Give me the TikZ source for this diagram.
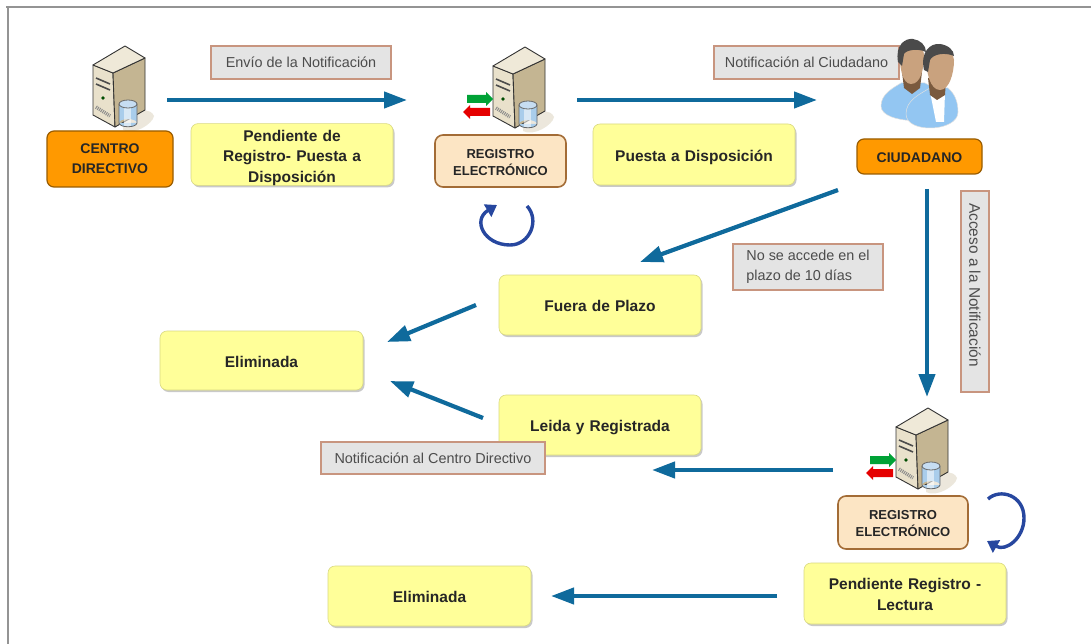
\documentclass[tikz,border=0pt]{standalone}
\usepackage{fontspec}
\setmainfont{Liberation Sans}
\usetikzlibrary{arrows.meta,shadows}
\definecolor{flow}{HTML}{0F6A9C}
\definecolor{loopc}{HTML}{27479F}
\definecolor{yel}{HTML}{FFFF99}
\definecolor{org}{HTML}{FF9900}
\definecolor{pch}{HTML}{FCE5C4}
\definecolor{lab}{HTML}{E4E4E4}
\definecolor{labb}{HTML}{C8957F}
\definecolor{srvtop}{HTML}{EFE9D8}
\definecolor{srvleft}{HTML}{E9E1CB}
\definecolor{srvright}{HTML}{C4B592}
\definecolor{cyl}{HTML}{A9CDEB}
\definecolor{cyltop}{HTML}{C6DDF2}
\definecolor{skin}{HTML}{C9A27E}
\definecolor{neck}{HTML}{7A5A3E}
\definecolor{hair}{HTML}{4A4A4A}
\definecolor{shirt}{HTML}{93C6F2}
\tikzset{
 x=1pt,y=-1pt,
 droptext/.style={execute at begin node={\rule{0pt}{#1pt}}},
 softshadow/.style={drop shadow={shadow xshift=1.5pt,shadow yshift=-2pt,fill=black!35,opacity=.6}},
 statebox/.style={draw=yel!85!black,fill=yel,rounded corners=7pt,line width=.6pt,softshadow,align=center,inner sep=0pt,font=\fontsize{15.5}{20.5}\selectfont\bfseries\color{black!85},text width=195pt},
 actor/.style={draw=org!60!black,fill=org,rounded corners=7pt,line width=1.2pt,align=center,inner sep=0pt,font=\fontsize{14}{20}\selectfont\bfseries\color{black!85},text width=115pt},
 regbox/.style={draw=brown!85!black,fill=pch,rounded corners=8pt,line width=1.6pt,align=center,inner sep=0pt,font=\fontsize{13}{17}\selectfont\bfseries\color{black!85},text width=125pt},
 tag/.style={draw=labb,fill=lab,line width=2pt,align=left,inner sep=0pt,font=\fontsize{14.4}{20}\selectfont\color{black!70}},
 flowarrow/.style={draw=flow,line width=4.2pt,-{Triangle[length=23pt,width=16pt]}},
 looparrow/.style={draw=loopc,line width=3.4pt,-{Triangle[length=11pt,width=14pt]}},
 srvline/.style={draw=black!80,line width=.9pt,line join=round},
 pics/server/.style={code={
  \fill[srvright!45,opacity=.7] (30,76) .. controls (44,62) and (58,62) .. (61,70) .. controls (60,78) and (40,90) .. (30,84) -- cycle;
  \draw[srvline,fill=srvleft] (0,19) -- (20,27) -- (22,81) -- (0,69) -- cycle;
  \draw[srvline,fill=srvright] (20,27) -- (52,12) -- (52,64) -- (22,81) -- cycle;
  \draw[srvline,fill=srvtop] (0,19) -- (32,0) -- (52,12) -- (20,27) -- cycle;
  \draw[black!70,line width=1.6pt] (3,32) -- (17,38);
  \draw[black!70,line width=1.6pt] (3,38) -- (17,44);
  \fill[green!30!black] (10,52) circle (1.8);
  \draw[black!45,line width=3.5pt,dash pattern=on 1pt off 1pt] (3,61) -- (17,70);
  \fill[cyl] (26,58) rectangle (44,77) (35,77) ellipse [x radius=9,y radius=4];
  \fill[white,opacity=.55] (31,60) rectangle (38,81);
  \draw[black!60,line width=.8pt] (26,58) -- (26,77) .. controls (27,82) and (43,82) .. (44,77) -- (44,58);
  \draw[black!60,line width=.8pt,fill=cyltop] (35,58) ellipse [x radius=9,y radius=4];
 }},
 pics/transfer/.style={code={
  \fill[green!50!teal!85!black] (-26,48) -- (-7,48) -- (-7,45) -- (0,52) -- (-7,59) -- (-7,56) -- (-26,56) -- cycle;
  \fill[red!90!black] (-3,61) -- (-23,61) -- (-23,58) -- (-30,65) -- (-23,72) -- (-23,69) -- (-3,69) -- cycle;
 }},
}
\begin{document}
\begin{tikzpicture}
\useasboundingbox (0,0) rectangle (1091,644);
\fill[white] (0,0) rectangle (1091,644);
\fill[black!42] (6,6) rectangle (1091,8);
\fill[black!42] (7,6) rectangle (9,644);

% icons
\pic at (93,46) {server};
\pic at (493,47) {server};
\pic at (493,47) {transfer};
\pic at (896,408) {server};
\pic at (896,408) {transfer};

% labels first (people overlap the label)
\node[tag,minimum width=180pt,minimum height=33pt] (tEnvio) at (301,62.5) {Envío de la Notificación};
\node[tag,minimum width=185pt,minimum height=33pt] (tCiud) at (806.5,62.5) {Notificación al Ciudadano};
\node[tag,minimum width=150pt,minimum height=46pt] (tPlazo) at (808,267) {No se accede en el\\plazo de 10 días};
\node[tag,minimum width=201pt,minimum height=28pt,rotate=-90,align=center,font=\fontsize{15.4}{20}\selectfont\color{black!70}] (tAcceso) at (975,291.5) {Acceso a la Notificación\hspace*{13pt}};

% people
\draw[black!12,fill=shirt,line width=.5pt] (881,106) .. controls (881,94) and (893,88) .. (901,83) -- (925,83) .. controls (935,88) and (945,96) .. (945,108) .. controls (945,125) and (881,125) .. (881,106) -- cycle;
\fill[neck] (902,72) -- (922,72) -- (920,88) -- (912,94) -- (904,88) -- cycle;
\fill[skin] (900,50) .. controls (900,42) and (925,42) .. (924,55) .. controls (924,68) and (921,84) .. (911,84) .. controls (902,84) and (899,66) .. (900,50) -- cycle;
\fill[hair] (898,62) .. controls (895,45) and (905,38) .. (913,39) .. controls (920,40) and (926,45) .. (926,52) .. controls (918,48) and (906,50) .. (904,54) -- (902,66) -- cycle;
\draw[black!12,fill=shirt,line width=.5pt] (906,114) .. controls (906,100) and (920,94) .. (930,88) -- (948,88) .. controls (955,94) and (958,102) .. (958,112) .. controls (958,132) and (906,134) .. (906,114) -- cycle;
\fill[white] (930,92) -- (945,92) -- (944,122) -- (936,122) -- cycle;
\fill[neck] (928,78) -- (946,78) -- (945,95) -- (937,100) -- (930,95) -- cycle;
\fill[skin] (926,56) .. controls (926,48) and (955,48) .. (954,60) .. controls (954,74) and (949,90) .. (940,90) .. controls (930,90) and (926,72) .. (926,56) -- cycle;
\fill[hair] (924,70) .. controls (920,52) and (930,43) .. (940,44) .. controls (948,45) and (954,50) .. (954,56) .. controls (945,52) and (933,54) .. (930,60) -- (928,72) -- cycle;

% state boxes
\node[actor,minimum width=126pt,minimum height=56pt] (centro) at (110,159) {CENTRO\\DIRECTIVO};
\node[statebox,droptext=17.5,minimum width=202pt,minimum height=61pt] (pendA) at (292,154.5) {Pendiente de\\Registro- Puesta a\\Disposición};
\node[regbox,droptext=12.5,minimum width=131pt,minimum height=52pt] (regA) at (500.5,161) {REGISTRO\\ELECTRÓNICO};
\node[statebox,droptext=17.5,minimum width=202pt,minimum height=61pt] (puesta) at (694,154.5) {Puesta a Disposición};
\node[actor,droptext=12,minimum width=125pt,minimum height=35pt] (ciud) at (919.5,156.5) {CIUDADANO};
\node[statebox,droptext=13.5,minimum width=202pt,minimum height=60pt] (fuera) at (600,305) {Fuera de Plazo};
\node[statebox,droptext=13.5,minimum width=203pt,minimum height=59pt] (elimA) at (261.5,360.5) {Eliminada};
\node[statebox,droptext=15.5,minimum width=202pt,minimum height=60pt] (leida) at (600,425) {Leida y Registrada};
\node[tag,minimum width=224pt,minimum height=32pt] (tCentro) at (433,458) {Notificación al Centro Directivo};
\node[regbox,droptext=11,minimum width=130pt,minimum height=53pt] (regB) at (903,522.5) {REGISTRO\\ELECTRÓNICO};
\node[statebox,droptext=13.5,minimum width=202pt,minimum height=61pt] (pendB) at (905,593.5) {Pendiente Registro -\\Lectura};
\node[statebox,droptext=13.5,minimum width=203pt,minimum height=60pt] (elimB) at (429.5,596) {Eliminada};

% arrow ends
\coordinate (a1) at (167,100); \coordinate (a2) at (407,100);
\coordinate (b1) at (577,100); \coordinate (b2) at (817,100);
\coordinate (c1) at (838,190); \coordinate (c2) at (640,262);
\coordinate (d1) at (927,189); \coordinate (d2) at (927,397);
\coordinate (e1) at (476,305); \coordinate (e2) at (387,342);
\coordinate (f1) at (483,418); \coordinate (f2) at (390,381);
\coordinate (g1) at (833,470); \coordinate (g2) at (652,470);
\coordinate (h1) at (777,596); \coordinate (h2) at (551,596);
\draw[flowarrow] (a1) -- (a2);
\draw[flowarrow] (b1) -- (b2);
\draw[flowarrow] (c1) -- (c2);
\draw[flowarrow] (d1) -- (d2);
\draw[flowarrow] (e1) -- (e2);
\draw[flowarrow] (f1) -- (f2);
\draw[flowarrow] (g1) -- (g2);
\draw[flowarrow] (h1) -- (h2);

% loops
\coordinate (l1) at (527,206); \coordinate (l2) at (497,205);
\draw[looparrow] (l1) .. controls (540,220) and (530,245) .. (510,245) .. controls (484,245) and (472,220) .. (l2);
\coordinate (m1) at (988,499); \coordinate (m2) at (987,541);
\draw[looparrow] (m1) .. controls (1000,488) and (1024,495) .. (1024,518) .. controls (1024,538) and (1006,552) .. (m2);
\end{tikzpicture}
\end{document}
